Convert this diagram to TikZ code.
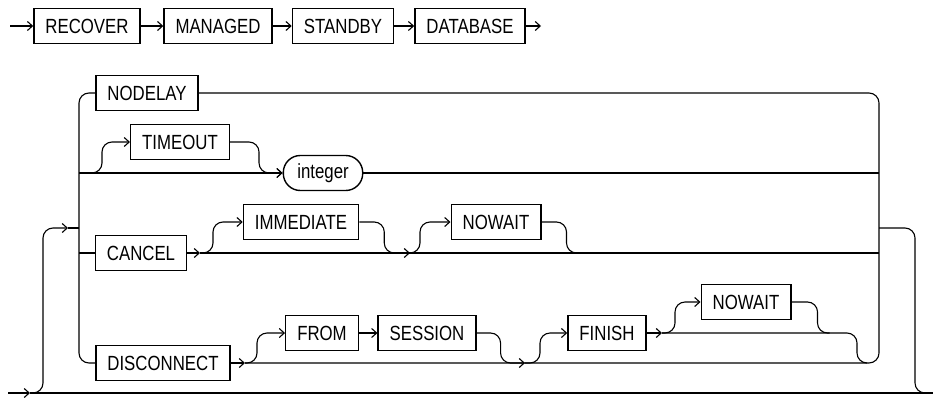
\documentclass[tikz,border=0pt]{standalone}
\usepackage{fontspec}
\usepackage{tikz}
\usetikzlibrary{arrows.meta,positioning,calc}
\newfontfamily\rrfont[FakeStretch=0.82]{Liberation Sans}

\begin{document}
\begin{tikzpicture}[x=1pt,y=-1pt,
 kw/.style={draw,line width=1.4pt,inner xsep=11.5pt,inner ysep=0pt,minimum height=35pt,font=\rrfont\fontsize{20.5}{24}\selectfont},
 var/.style={kw,rounded corners=17pt,inner xsep=14pt},
 l/.style={line width=1.1pt},
 r/.style={l,rounded corners=10pt},
 a/.style={l,-{Straight Barb[length=5pt,width=9pt]}}]
\useasboundingbox (0,0) rectangle (933,399);
\node[kw] (recover) at (87,26) {RECOVER};
\node[kw] (managed) at (218,26) {MANAGED};
\node[kw] (standby) at (343,26) {STANDBY};
\node[kw] (database) at (470,26) {DATABASE};
\coordinate (start) at (10,26); \coordinate (stop) at (541,26);
\draw[a] (start)--(recover);\draw[a] (recover)--(managed);\draw[a] (managed)--(standby);
\draw[a] (standby)--(database);\draw[a] (database)--(stop);
\coordinate (lt) at (79,93); \coordinate (lb) at (79,363);
\coordinate (rt) at (879,93); \coordinate (rb) at (879,363);
\node[kw] (nodelay) at (147,93) {NODELAY};
\node[kw] (timeout) at (180,142) {TIMEOUT};
\node[var] (integer) at (323,173) {integer};
\node[kw] (cancel) at (141,253) {CANCEL};
\node[kw] (immediate) at (301,222) {IMMEDIATE};
\node[kw] (nowaita) at (496,222) {NOWAIT};
\node[kw] (disconnect) at (163,363) {DISCONNECT};
\node[kw] (from) at (322,333) {FROM};
\node[kw] (session) at (427,333) {SESSION};
\node[kw] (finish) at (607,333) {FINISH};
\node[kw] (nowaitb) at (746,302) {NOWAIT};
\coordinate (l2) at (79,173); \coordinate (t0) at (92,173); \coordinate (r2) at (879,173);
\coordinate (l3) at (79,253); \coordinate (c1) at (200,253); \coordinate (c2) at (410,253); \coordinate (r3) at (879,253);
\coordinate (d1) at (245,363); \coordinate (d2) at (525,363); \coordinate (f1) at (662,333);
\coordinate (in) at (8,393); \coordinate (j0) at (30,393); \coordinate (out) at (933,393);
\coordinate (jin) at (68,228); \coordinate (lj) at (79,228); \coordinate (rj) at (879,228);
\draw[r] (nodelay.west)--(lt)--(lb)--(disconnect.west);
\draw[r] (nodelay.east)--(rt)--(rb)--(d1);
\draw[a] (l2)--(integer);\draw[l] (integer)--(r2);
\draw[r,a] (t0)--++(10,0) |- (timeout);
\draw[r,a] (timeout.east)--++(29,0) |- (integer);
\draw[l] (l3)--(cancel);\draw[a] (cancel)--(c1);\draw[l] (c1)--(r3);
\draw[r,a] (c1)--++(13,0) |- (immediate);
\draw[r,a] (immediate.east)--++(25,0) |- (c2);
\draw[r,a] (c2)--++(10,0) |- (nowaita);
\draw[r] (nowaita.east)--++(25,0)--++(0,31)--++(10,0);
\draw[a] (disconnect)--(d1);
\draw[r,a] (d1)--++(12,0) |- (from);
\draw[a] (from)--(session);
\draw[r,a] (session.east)--++(24,0) |- (d2);
\draw[r,a] (d2)--++(15,0) |- (finish);
\draw[a] (finish)--(f1);
\draw[r] (f1)--++(195,0)--++(0,30)--++(10,0);
\draw[r,a] (f1)--++(13,0) |- (nowaitb);
\draw[r] (nowaitb.east)--++(26,0)--++(0,31)--++(12,0);
\draw[a] (in)--(j0);\draw[l] (j0)--(out);
\draw[r,a] (j0)--++(13,0) |- (jin);\draw[l] (jin)--(lj);
\draw[r] (rj)--++(36,0) |- (out);
\end{tikzpicture}
\end{document}
